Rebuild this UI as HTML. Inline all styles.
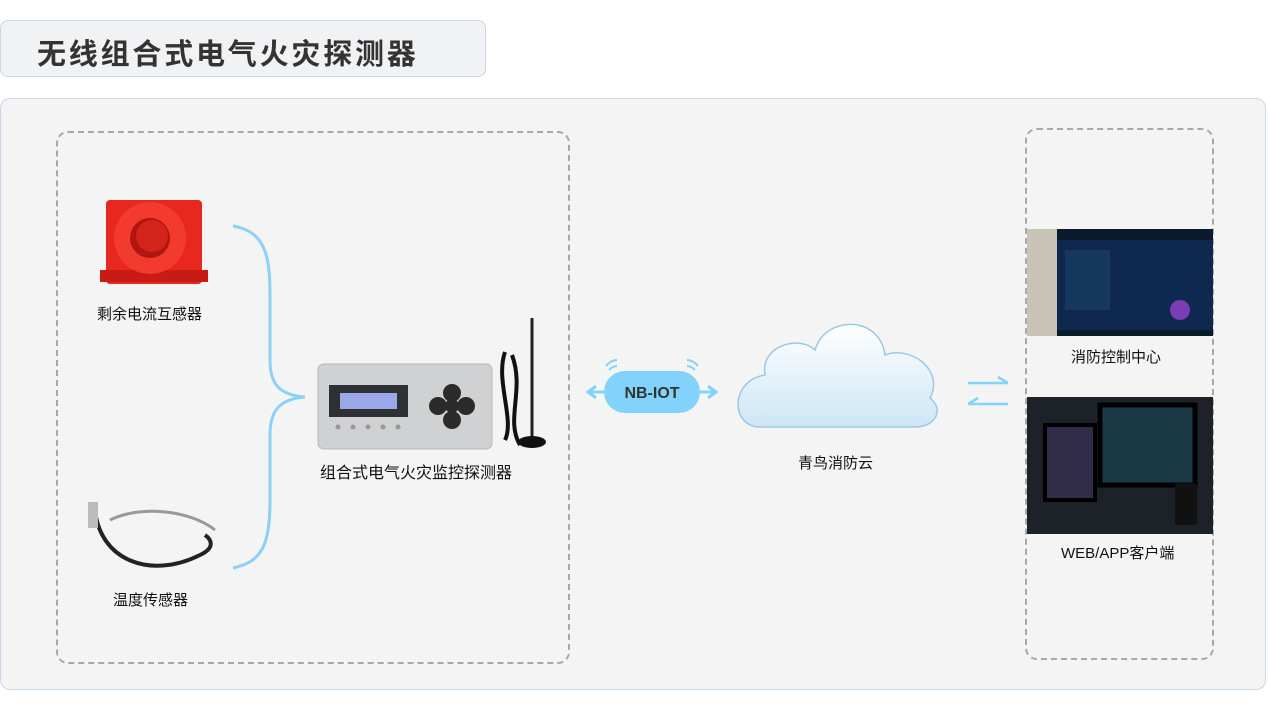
<!DOCTYPE html>
<html><head><meta charset="utf-8"><style>
*{margin:0;padding:0;box-sizing:border-box}
body{width:1268px;height:714px;background:#fff;position:relative;overflow:hidden;font-family:"Liberation Sans","Noto Sans CJK SC",sans-serif}
.abs{position:absolute}
.lbl{position:absolute;font-size:15px;color:#111;white-space:nowrap}
</style></head><body>
<div class="abs" style="left:0;top:20px;width:486px;height:57px;background:#f1f2f4;border:1px solid #c8d8ea;border-radius:8px"></div>
<div class="abs" style="left:37px;top:31px;font-size:29px;font-weight:bold;color:#333;letter-spacing:2.8px">无线组合式电气火灾探测器</div>
<div class="abs" style="left:0;top:98px;width:1266px;height:592px;background:#f4f4f4;border:1px solid #c8d8ea;border-radius:10px"></div>
<div class="abs" style="left:56px;top:131px;width:514px;height:533px;border:2px dashed #a8a8a8;border-radius:12px"></div>
<div class="abs" style="left:1025px;top:128px;width:189px;height:532px;border:2px dashed #a8a8a8;border-radius:12px"></div>

<svg class="abs" style="left:0;top:0" width="1268" height="714">
 <path d="M233 226 C268 232 270 260 270 300 L270 360 C270 385 280 395 305 397 C280 399 270 410 270 435 L270 500 C270 545 262 562 233 568" fill="none" stroke="#8fd0f5" stroke-width="3"/>
 <g>
  <rect x="106" y="200" width="96" height="84" fill="#e8281e" rx="4"/>
  <rect x="100" y="270" width="108" height="12" fill="#c81b14"/>
  <circle cx="150" cy="238" r="36" fill="#f23a2e"/>
  <circle cx="150" cy="238" r="20" fill="#b01510"/>
  <circle cx="152" cy="236" r="16" fill="#d2241a"/>
 </g>
 <g fill="none" stroke="#222" stroke-width="4">
  <path d="M95 510 C100 560 150 580 200 555 C215 548 212 540 205 535"/>
  <path d="M110 520 C140 505 190 510 215 530" stroke="#999" stroke-width="3"/>
 </g>
 <rect x="88" y="502" width="10" height="26" fill="#bbb"/>
 <rect x="318" y="364" width="174" height="85" rx="6" fill="#cfd1d3" stroke="#b8b8b8"/>
 <rect x="329" y="385" width="79" height="32" fill="#2e3134"/>
 <rect x="340" y="393" width="57" height="16" fill="#9aa7e8"/>
 <g fill="#2b2b2b"><circle cx="452" cy="393" r="9"/><circle cx="452" cy="420" r="9"/><circle cx="438" cy="406" r="9"/><circle cx="466" cy="406" r="9"/><circle cx="452" cy="406" r="7"/></g>
 <g fill="#999"><circle cx="338" cy="427" r="2.5"/><circle cx="353" cy="427" r="2.5"/><circle cx="368" cy="427" r="2.5"/><circle cx="383" cy="427" r="2.5"/><circle cx="398" cy="427" r="2.5"/></g>
 <line x1="532" y1="318" x2="532" y2="440" stroke="#222" stroke-width="3"/>
 <path d="M505 352 C495 380 515 420 505 440 M512 355 C525 390 505 420 520 445" stroke="#111" stroke-width="4" fill="none"/>
 <ellipse cx="532" cy="442" rx="14" ry="6" fill="#111"/>
 <rect x="604" y="371" width="96" height="42" rx="21" fill="#82d3fb"/>
 <text x="652" y="398" text-anchor="middle" font-family="Liberation Sans" font-weight="bold" font-size="16" fill="#333">NB-IOT</text>
 <path d="M604 392 H588 M596 386 L588 392 L596 398 M700 392 H716 M708 386 L716 392 L708 398" stroke="#82d3fb" stroke-width="3" fill="none"/>
 <path d="M606 366 q5 -6 11 -6 M609 370 q4 -4 8 -4 M698 366 q-5 -6 -11 -6 M695 370 q-4 -4 -8 -4" stroke="#82d3fb" stroke-width="2" fill="none"/>
 <defs><linearGradient id="cg" x1="0" y1="0" x2="0" y2="1"><stop offset="0" stop-color="#fff"/><stop offset="1" stop-color="#cde6f6"/></linearGradient></defs>
 <path d="M760 427 C730 427 730 380 765 375 C760 345 800 335 815 350 C825 315 880 315 885 355 C910 345 945 370 930 398 C945 410 935 427 915 427 Z" fill="url(#cg)" stroke="#9cc8e6" stroke-width="1.5"/>
 <path d="M968 383 H1008 M998 377 L1008 383 M968 404 H1008 M978 398 L968 404" stroke="#82d3fb" stroke-width="2.5" fill="none"/>
 <rect x="1027" y="229" width="186" height="107" fill="#0c1a2e"/>
 <rect x="1027" y="229" width="30" height="107" fill="#c9c3b5"/>
 <rect x="1057" y="240" width="156" height="90" fill="#0f2850"/>
 <rect x="1065" y="250" width="45" height="60" fill="#16385f"/>
 <circle cx="1180" cy="310" r="10" fill="#7b3db3"/>
 <rect x="1027" y="397" width="186" height="137" fill="#1d2228"/>
 <rect x="1045" y="425" width="50" height="75" fill="#312c48" stroke="#000" stroke-width="4"/>
 <rect x="1100" y="405" width="95" height="80" fill="#1a3a48" stroke="#000" stroke-width="5"/>
 <rect x="1175" y="483" width="22" height="42" fill="#111" rx="3"/>
</svg>

<div class="lbl" style="left:97px;top:303px">剩余电流互感器</div>
<div class="lbl" style="left:113px;top:589px">温度传感器</div>
<div class="lbl" style="left:320px;top:459px;font-size:16px">组合式电气火灾监控探测器</div>
<div class="lbl" style="left:798px;top:452px">青鸟消防云</div>
<div class="lbl" style="left:1071px;top:346px">消防控制中心</div>
<div class="lbl" style="left:1061px;top:542px">WEB/APP客户端</div>
</body></html>
